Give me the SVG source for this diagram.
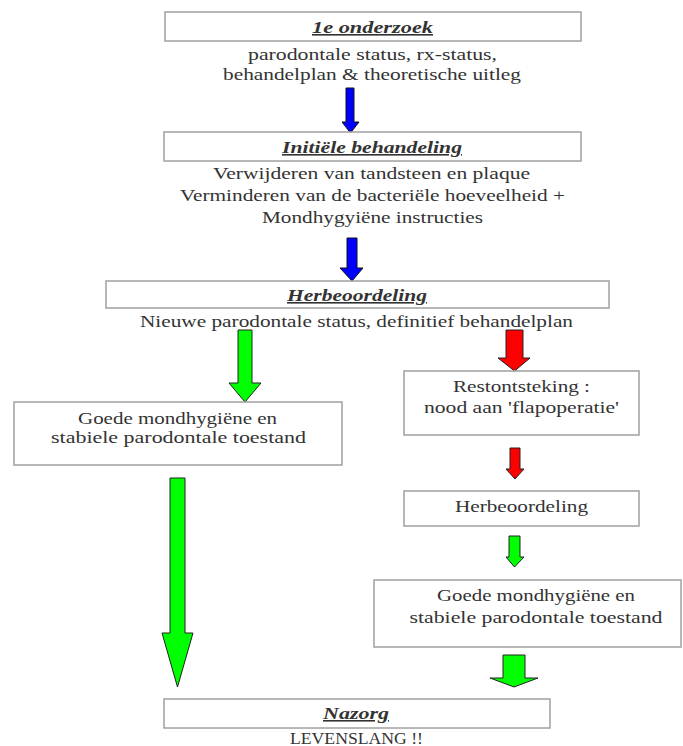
<svg xmlns="http://www.w3.org/2000/svg" width="683" height="746" viewBox="0 0 683 746">
<style>
.box{fill:#fff;stroke:#a0a0a0;stroke-width:1.5}
text{font-family:"Liberation Serif","DejaVu Serif",serif;font-size:16px;fill:#333;text-anchor:middle}
.t{font-weight:bold;font-style:italic;text-decoration:underline}
.blue{fill:#0000ff;stroke:#111;stroke-width:1}
.green{fill:#00ff00;stroke:#222;stroke-width:1}
.red{fill:#ff0000;stroke:#222;stroke-width:1}
</style>
<rect width="683" height="746" fill="#fff"/>
<g id="connectors">
<polygon class="blue" points="346,88 354,88 354,122 359,122 350.5,133 342,122 346,122"/>
<polygon class="blue" points="347,238 357,238 357,268 363,268 352,281 340,268 347,268"/>
<polygon class="green" points="238,330 252,330 252,383 261,383 245,402 229,383 238,383"/>
<polygon class="red" points="506,330 523,330 523,358 530,358 514.5,371 498,358 506,358"/>
<polygon class="red" points="510,448 520,448 520,469 524,469 515,479 506,469 510,469"/>
<polygon class="green" points="509,536 520,536 520,557 524,557 514.5,567 506,557 509,557"/>
<polygon class="green" points="503,655 525,655 525,678 538,678 514,687 490,678 503,678"/>
<polygon class="green" points="170,478 185,478 185,633 193,633 177.5,687 162,633 170,633"/>
</g>
<g id="n1">
<rect class="box" x="165" y="12" width="416" height="29"/>
<text class="t" x="372.5" y="33" textLength="121" lengthAdjust="spacingAndGlyphs">1e onderzoek</text>
<text x="372.5" y="60" textLength="249" lengthAdjust="spacingAndGlyphs">parodontale status, rx-status,</text>
<text x="372" y="80" textLength="298" lengthAdjust="spacingAndGlyphs">behandelplan &amp; theoretische uitleg</text>
</g>
<g id="n2">
<rect class="box" x="164" y="132" width="417" height="29"/>
<text class="t" x="372" y="153" textLength="180" lengthAdjust="spacingAndGlyphs">Initiële behandeling</text>
<text x="371.5" y="179" textLength="317" lengthAdjust="spacingAndGlyphs">Verwijderen van tandsteen en plaque</text>
<text x="372.5" y="201" textLength="385" lengthAdjust="spacingAndGlyphs">Verminderen van de bacteriële hoeveelheid +</text>
<text x="372.5" y="223" textLength="221" lengthAdjust="spacingAndGlyphs">Mondhygyiëne instructies</text>
</g>
<g id="n3">
<rect class="box" x="106" y="281" width="503" height="27"/>
<text class="t" x="357" y="301" textLength="140" lengthAdjust="spacingAndGlyphs">Herbeoordeling</text>
<text x="356.5" y="327" textLength="433" lengthAdjust="spacingAndGlyphs">Nieuwe parodontale status, definitief behandelplan</text>
</g>
<g id="n4">
<rect class="box" x="14" y="402" width="328" height="63"/>
<text x="177.5" y="424" textLength="199" lengthAdjust="spacingAndGlyphs">Goede mondhygiëne en</text>
<text x="178.5" y="443" textLength="255" lengthAdjust="spacingAndGlyphs">stabiele parodontale toestand</text>
</g>
<g id="n5">
<rect class="box" x="404" y="371" width="235" height="64"/>
<text x="521.5" y="392" textLength="137" lengthAdjust="spacingAndGlyphs">Restontsteking :</text>
<text x="521.5" y="413" textLength="195" lengthAdjust="spacingAndGlyphs">nood aan 'flapoperatie'</text>
</g>
<g id="n6">
<rect class="box" x="404" y="491" width="235" height="35"/>
<text x="521.5" y="512" textLength="133" lengthAdjust="spacingAndGlyphs">Herbeoordeling</text>
</g>
<g id="n7">
<rect class="box" x="374" y="580" width="307" height="67"/>
<text x="536" y="601" textLength="198" lengthAdjust="spacingAndGlyphs">Goede mondhygiëne en</text>
<text x="536" y="623" textLength="253" lengthAdjust="spacingAndGlyphs">stabiele parodontale toestand</text>
</g>
<g id="n8">
<rect class="box" x="164" y="699" width="386" height="29"/>
<text class="t" x="356" y="719" textLength="66" lengthAdjust="spacingAndGlyphs">Nazorg</text>
<text x="356.5" y="744" textLength="133" lengthAdjust="spacingAndGlyphs">LEVENSLANG !!</text>
</g>
</svg>
